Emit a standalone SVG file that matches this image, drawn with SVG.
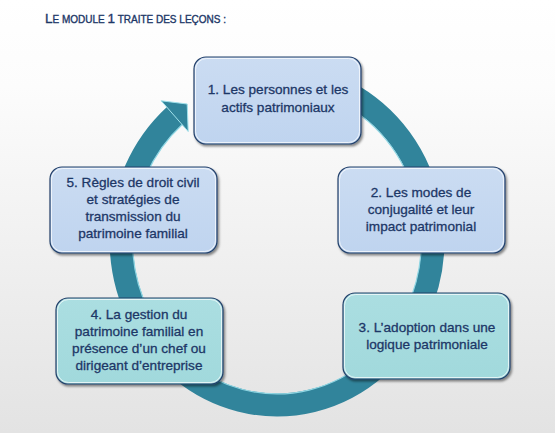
<svg xmlns="http://www.w3.org/2000/svg" width="555" height="433" viewBox="0 0 555 433">
  <defs>
    <linearGradient id="bg" x1="0" y1="0" x2="0" y2="1">
      <stop offset="0" stop-color="#ffffff"/>
      <stop offset="0.2" stop-color="#fcfcfc"/>
      <stop offset="1" stop-color="#e3e3e3"/>
    </linearGradient>
    <linearGradient id="blue" x1="0" y1="0" x2="0" y2="1">
      <stop offset="0" stop-color="#cbdcf2"/>
      <stop offset="1" stop-color="#bfd4ef"/>
    </linearGradient>
    <linearGradient id="teal" x1="0" y1="0" x2="0" y2="1">
      <stop offset="0" stop-color="#abdee1"/>
      <stop offset="1" stop-color="#a1d9dc"/>
    </linearGradient>
    <filter id="shadow" x="-10%" y="-10%" width="125%" height="130%">
      <feDropShadow dx="1.5" dy="2" stdDeviation="1.3" flood-color="#000000" flood-opacity="0.45"/>
    </filter>
    <style>
      .box { stroke: #23406a; stroke-width: 1.2; filter: url(#shadow); }
      .blue { fill: url(#blue); }
      .teal { fill: url(#teal); }
      .hl { fill: none; stroke: #ffffff; stroke-opacity: 0.7; stroke-width: 1; }
      .lbl { font-family: "Liberation Sans", Arial, sans-serif; font-size: 13.6px; fill: #1d3767; stroke: #1d3767; stroke-width: 0.3; text-anchor: middle; }
      .ring { fill: none; stroke: #31849b; stroke-width: 23; }
      .ringhl { fill: none; stroke: #8fd6e3; stroke-width: 1.2; }
      .title { font-family: "Liberation Sans", Arial, sans-serif; fill: #1d3767; stroke: #1d3767; stroke-width: 0.35; }
    </style>
  </defs>

  <rect x="0" y="0" width="555" height="433" fill="url(#bg)"/>

  <text class="title" x="45" y="23" font-size="13.5">L<tspan font-size="10">E MODULE </tspan>1<tspan font-size="10"> TRAITE DES LEÇONS :</tspan></text>

  <g id="connectors">
    <path class="ring" d="M 317.4 80.6 A 156 165 0 1 1 174.7 115.5"/>
    <path class="ringhl" d="M 314.6 92.2 A 144.5 153.5 0 1 1 182.5 124.2"/>
    <polygon points="161.2,100.8 187.2,104 188.2,131.5" fill="#31849b" stroke="#9fe0ea" stroke-width="1" stroke-linejoin="miter"/>
  </g>

  <g id="node1">
    <rect class="box blue" x="194" y="57" width="167" height="87" rx="12"/>
    <rect class="hl" x="195.5" y="58.5" width="164" height="84" rx="11"/>
    <text class="lbl" x="278" y="94">1. Les personnes et les</text>
    <text class="lbl" x="278" y="112">actifs patrimoniaux</text>
  </g>

  <g id="node2">
    <rect class="box blue" x="338" y="167" width="167" height="86" rx="12"/>
    <rect class="hl" x="339.5" y="168.5" width="164" height="83" rx="11"/>
    <text class="lbl" x="421" y="197">2. Les modes de</text>
    <text class="lbl" x="421" y="214">conjugalité et leur</text>
    <text class="lbl" x="421" y="231">impact patrimonial</text>
  </g>

  <g id="node3">
    <rect class="box teal" x="343" y="293" width="167" height="86" rx="12"/>
    <rect class="hl" x="344.5" y="294.5" width="164" height="83" rx="11"/>
    <text class="lbl" x="427" y="331.5">3. L’adoption dans une</text>
    <text class="lbl" x="427" y="348.5">logique patrimoniale</text>
  </g>

  <g id="node4">
    <rect class="box teal" x="56" y="298" width="167" height="86" rx="12"/>
    <rect class="hl" x="57.5" y="299.5" width="164" height="83" rx="11"/>
    <text class="lbl" x="139" y="318.5">4. La gestion du</text>
    <text class="lbl" x="139" y="335.5">patrimoine familial en</text>
    <text class="lbl" x="139" y="352.5">présence d’un chef ou</text>
    <text class="lbl" x="139" y="369.5">dirigeant d’entreprise</text>
  </g>

  <g id="node5">
    <rect class="box blue" x="50" y="167" width="167" height="86" rx="12"/>
    <rect class="hl" x="51.5" y="168.5" width="164" height="83" rx="11"/>
    <text class="lbl" x="133" y="187">5. Règles de droit civil</text>
    <text class="lbl" x="133" y="204">et stratégies de</text>
    <text class="lbl" x="133" y="221">transmission du</text>
    <text class="lbl" x="133" y="238">patrimoine familial</text>
  </g>
</svg>
